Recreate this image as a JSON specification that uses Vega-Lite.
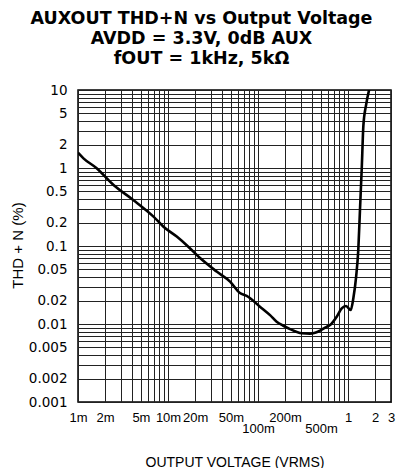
{
  "$schema": "https://vega.github.io/schema/vega-lite/v6.json",
  "width": 313,
  "height": 312,
  "autosize": "none",
  "padding": {"left": 78, "top": 90, "right": 6, "bottom": 66},
  "background": "white",
  "config": {
    "font": "Liberation Sans",
    "view": {"stroke": "black", "strokeWidth": 1.5}
  },
  "title": {
    "text": ["AUXOUT THD+N vs Output Voltage", "AVDD = 3.3V, 0dB AUX", "fOUT = 1kHz, 5kΩ"],
    "font": "DejaVu Sans",
    "fontSize": 17.5,
    "fontWeight": "bold",
    "color": "black",
    "lineHeight": 20,
    "anchor": "middle",
    "frame": "group",
    "dx": -33,
    "offset": 16
  },
  "data": {
    "values": [
      {"v": 0.001, "thd": 1.57},
      {"v": 0.00115, "thd": 1.33},
      {"v": 0.0016, "thd": 1.0},
      {"v": 0.0025, "thd": 0.6},
      {"v": 0.0041, "thd": 0.39},
      {"v": 0.0069, "thd": 0.238},
      {"v": 0.0089, "thd": 0.177},
      {"v": 0.0125, "thd": 0.132},
      {"v": 0.0168, "thd": 0.098},
      {"v": 0.0227, "thd": 0.07},
      {"v": 0.0347, "thd": 0.047},
      {"v": 0.0489, "thd": 0.035},
      {"v": 0.063, "thd": 0.025},
      {"v": 0.0748, "thd": 0.0229},
      {"v": 0.105, "thd": 0.0167},
      {"v": 0.136, "thd": 0.013},
      {"v": 0.161, "thd": 0.0107},
      {"v": 0.191, "thd": 0.0095},
      {"v": 0.227, "thd": 0.0086},
      {"v": 0.306, "thd": 0.0076},
      {"v": 0.378, "thd": 0.0075},
      {"v": 0.43, "thd": 0.0077},
      {"v": 0.579, "thd": 0.0092},
      {"v": 0.631, "thd": 0.0097},
      {"v": 0.748, "thd": 0.0124},
      {"v": 0.851, "thd": 0.0159},
      {"v": 0.95, "thd": 0.017},
      {"v": 1.07, "thd": 0.0151},
      {"v": 1.146, "thd": 0.0215},
      {"v": 1.23, "thd": 0.0405},
      {"v": 1.3, "thd": 0.09},
      {"v": 1.36, "thd": 0.31},
      {"v": 1.42, "thd": 1.0},
      {"v": 1.48, "thd": 3.5},
      {"v": 1.585, "thd": 6.4},
      {"v": 1.73, "thd": 10.5}
    ]
  },
  "mark": {"type": "line", "color": "black", "strokeWidth": 2.6, "clip": true, "interpolate": "monotone"},
  "encoding": {
    "x": {
      "field": "v",
      "type": "quantitative",
      "scale": {"type": "log", "domain": [0.001, 3], "nice": false},
      "axis": {
        "title": "OUTPUT VOLTAGE (VRMS)",
        "titleFont": "Liberation Sans",
        "titleFontSize": 14,
        "titleFontWeight": "normal",
        "titleColor": "black",
        "titleBaseline": "alphabetic",
        "titleY": 64,
        "values": [0.001, 0.002, 0.003, 0.004, 0.005, 0.006, 0.007, 0.008, 0.009, 0.01, 0.02, 0.03, 0.04, 0.05, 0.06, 0.07, 0.08, 0.09, 0.1, 0.2, 0.3, 0.4, 0.5, 0.6, 0.7, 0.8, 0.9, 1, 2, 3],
        "labelExpr": "indexof([0.001,0.002,0.005,0.01,0.02,0.05,0.1,0.2,0.5], datum.value) >= 0 ? round(datum.value*1000) + 'm' : (indexof([1,2,3], datum.value) >= 0 ? toString(datum.value) : '')",
        "labelFont": "Liberation Sans",
        "labelFontSize": 13,
        "labelColor": "black",
        "labelOverlap": false,
        "labelBound": false,
        "labelFlush": false,
        "labelPadding": {"condition": {"test": "datum.value == 0.1 || datum.value == 0.5", "value": 20}, "value": 9},
        "ticks": false,
        "domain": false,
        "grid": true,
        "gridColor": "#222222",
        "gridWidth": 1,
        "gridOpacity": 1
      }
    },
    "y": {
      "field": "thd",
      "type": "quantitative",
      "scale": {"type": "log", "domain": [0.001, 10], "nice": false},
      "axis": {
        "title": "THD + N (%)",
        "titleFont": "Liberation Sans",
        "titleFontSize": 15,
        "titleFontWeight": "normal",
        "titleColor": "black",
        "titleAngle": -90,
        "titleAlign": "center",
        "titleBaseline": "alphabetic",
        "titleX": -56,
        "titleY": 155,
        "values": [0.001, 0.002, 0.003, 0.004, 0.005, 0.006, 0.007, 0.008, 0.009, 0.01, 0.02, 0.03, 0.04, 0.05, 0.06, 0.07, 0.08, 0.09, 0.1, 0.2, 0.3, 0.4, 0.5, 0.6, 0.7, 0.8, 0.9, 1, 2, 3, 4, 5, 6, 7, 8, 9, 10],
        "labelExpr": "indexof([0.001,0.002,0.005,0.01,0.02,0.05,0.1,0.2,0.5,1,2,5,10], datum.value) >= 0 ? toString(datum.value) : ''",
        "labelFont": "DejaVu Sans",
        "labelFontSize": 13.5,
        "labelColor": "black",
        "labelOverlap": false,
        "labelBound": false,
        "labelFlush": false,
        "labelPadding": 11,
        "ticks": false,
        "domain": false,
        "grid": true,
        "gridColor": "#222222",
        "gridWidth": 1,
        "gridOpacity": 1
      }
    }
  }
}
